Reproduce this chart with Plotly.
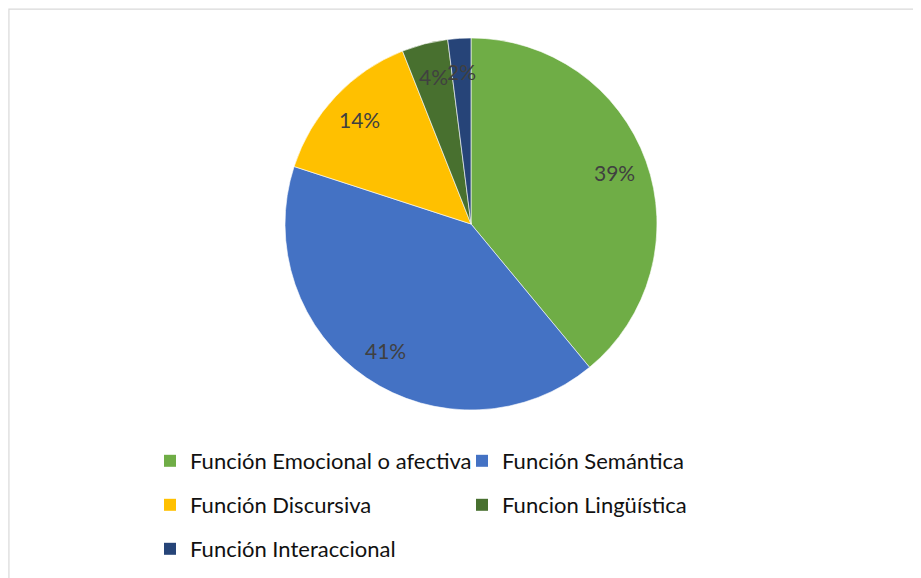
import plotly.graph_objects as go
import math

# datos
funciones = ['Función Emocional o afectiva', 'Función Semántica', 'Función Discursiva',
             'Funcion Lingüística', 'Función Interaccional']
porcentajes = [39, 41, 14, 4, 2]
colores = ['#6FAD46', '#4472C4', '#FFC000', '#48702F', '#264478']

W, H = 921, 578
OFF = 8  # margen del body en la página html
cx, cy, R = 471 - OFF, 224 - OFF, 186


def px2paper(x, y):
    return x / W, 1 - y / H


fig = go.Figure()
fig.add_trace(go.Pie(
    labels=funciones,
    values=porcentajes,
    sort=False,
    direction='clockwise',
    rotation=0,
    textinfo='none',
    hoverinfo='label+percent',
    marker=dict(colors=colores, line=dict(color='white', width=0.6)),
    domain=dict(x=[(cx - R) / W, (cx + R) / W], y=[1 - (cy + R) / H, 1 - (cy - R) / H]),
    showlegend=False,
))

# etiquetas de porcentaje
total = sum(porcentajes)
acum = 0
for v in porcentajes:
    ang = math.radians(360 * (acum + v / 2) / total)
    acum += v
    ax, ay = px2paper(cx + 0.82 * R * math.sin(ang), cy - 0.82 * R * math.cos(ang))
    fig.add_annotation(x=ax, y=ay, xref='paper', yref='paper',
                       xanchor='center', yanchor='middle',
                       text=f'{round(100 * v / total)}%', showarrow=False,
                       font=dict(family='Lato', size=21, color='#404040'))

# leyenda en tres filas
filas = [[0, 1], [2, 3], [4]]
nombres_leyenda = ['legend', 'legend2', 'legend3']
for fila, leg in zip(filas, nombres_leyenda):
    for i in fila:
        fig.add_trace(go.Scatter(x=[None], y=[None], mode='markers', name=funciones[i],
                                 marker=dict(symbol='square', size=12, color=colores[i]),
                                 legend=leg, hoverinfo='skip'))

leg_style = dict(orientation='h', x=(150 - OFF) / W, xanchor='left', yanchor='middle',
                 entrywidth=267, bgcolor='rgba(0,0,0,0)',
                 font=dict(family='Lato', size=22, color='#111111'))
fig.update_layout(
    legend=dict(y=px2paper(0, 461 - OFF)[1], **leg_style),
    legend2=dict(y=px2paper(0, 505 - OFF)[1], **leg_style),
    legend3=dict(y=px2paper(0, 549 - OFF)[1], **leg_style),
)

# borde del gráfico
fig.add_shape(type='rect', xref='paper', yref='paper',
              x0=0.001, x1=1.02, y0=-0.02, y1=px2paper(0, 8.5 - OFF)[1] - 0.001,
              line=dict(color='#D9D9D9', width=1.2), fillcolor='rgba(0,0,0,0)')

fig.update_layout(
    width=W, height=H,
    margin=dict(l=0, r=0, t=0, b=0),
    paper_bgcolor='white', plot_bgcolor='white',
    xaxis=dict(visible=False), yaxis=dict(visible=False),
)

fig.write_html('out.html')
